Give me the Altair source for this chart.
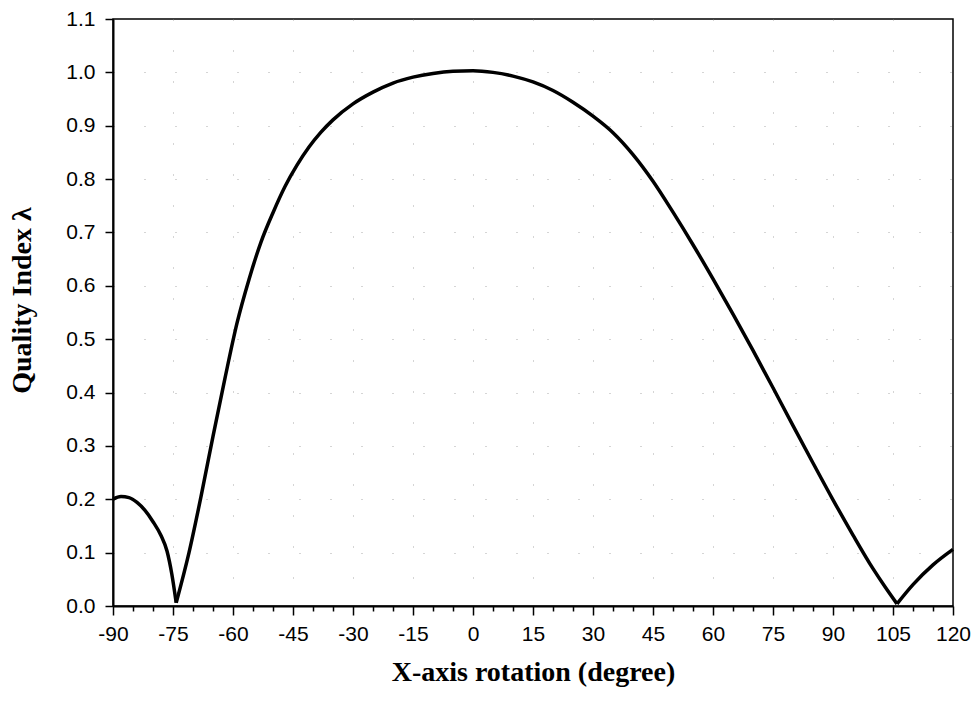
import altair as alt
import pandas as pd

# Quality index versus rotation about the X axis, split into the three
# branches between the two zero crossings so each branch stays smooth.
branch_a_angle = [-90, -88, -86, -84, -82, -80, -78, -76.5, -75.3, -74.2]
branch_a_value = [0.200, 0.205, 0.203, 0.194, 0.179, 0.158, 0.132, 0.103, 0.060, 0.006]

branch_b_angle = [-74.2, -71, -68, -65, -62, -59, -56, -53, -50, -47, -44, -41, -38,
                  -35, -30, -25, -20, -15, -10, -5, 0, 5, 10, 15, 20, 25, 30, 35,
                  40, 45, 50, 55, 60, 65, 70, 75, 80, 85, 90, 95, 100, 103, 106.0]
branch_b_value = [0.006, 0.100, 0.205, 0.318, 0.427, 0.530, 0.612, 0.682, 0.737, 0.786,
                  0.826, 0.860, 0.888, 0.911, 0.941, 0.963, 0.980, 0.991, 0.998, 1.002,
                  1.003, 1.000, 0.993, 0.982, 0.966, 0.944, 0.918, 0.887, 0.846, 0.796,
                  0.738, 0.677, 0.613, 0.547, 0.479, 0.409, 0.338, 0.268, 0.199, 0.133,
                  0.070, 0.036, 0.004]

branch_c_angle = [106.0, 110, 115, 120]
branch_c_value = [0.004, 0.040, 0.077, 0.106]

x_ticks = list(range(-90, 121, 5))
y_ticks = [round(i * 0.1, 1) for i in range(0, 12)]

rows = []
for name, angles, values in [("a", branch_a_angle, branch_a_value),
                             ("b", branch_b_angle, branch_b_value),
                             ("c", branch_c_angle, branch_c_value)]:
    for a, v in zip(angles, values):
        rows.append({"angle": a, "quality": v, "branch": name})
df = pd.DataFrame(rows)

x_axis = alt.Axis(
    values=x_ticks,
    labelExpr="datum.value % 15 === 0 ? '' + datum.value : ''",
    labelOverlap=False,
    labelFlush=False,
    labelFont="Liberation Sans",
    labelFontSize=21,
    labelColor="black",
    labelPadding=8,
    tickColor="black",
    tickWidth=1.5,
    tickSize={"condition": {"test": "datum.value % 15 === 0", "value": 9}, "value": 5},
    domainColor="black",
    domainWidth=2,
    grid=True,
    gridColor="#888",
    gridWidth=1,
    gridDash=[1, 30],
    gridOpacity={"condition": {"test": "datum.value % 15 === 0 && datum.value > -90 && datum.value < 120",
                               "value": 0.7}, "value": 0},
    title="X-axis rotation (degree)",
    titleFont="Liberation Serif",
    titleFontSize=28,
    titleFontWeight="bold",
    titleColor="black",
    titleBaseline="middle",
    titleY=66,
)

y_axis = alt.Axis(
    values=y_ticks,
    format=".1f",
    labelFont="Liberation Sans",
    labelFontSize=21,
    labelColor="black",
    labelPadding=10,
    tickColor="black",
    tickWidth=1.5,
    tickSize=8,
    domainColor="black",
    domainWidth=2,
    grid=True,
    gridColor="#888",
    gridWidth=1,
    gridDash=[1, 30],
    gridOpacity={"condition": {"test": "datum.value > 0 && datum.value < 1.05",
                               "value": 0.7}, "value": 0},
    title="Quality Index λ",
    titleFont="Liberation Serif",
    titleFontSize=28,
    titleFontWeight="bold",
    titleColor="black",
    titleBaseline="middle",
    titleX=-91,
    titleY=281,
)

chart = alt.Chart(df).mark_line(
    color="black", strokeWidth=3.5, interpolate="monotone", strokeJoin="round"
).encode(
    x=alt.X("angle:Q", scale=alt.Scale(domain=[-90, 120], nice=False, zero=False), axis=x_axis),
    y=alt.Y("quality:Q", scale=alt.Scale(domain=[0, 1.1], nice=False), axis=y_axis),
    detail="branch:N",
).properties(
    width=840,
    height=587,
    autosize=alt.AutoSizeParams(type="none"),
    padding={"left": 113, "top": 19, "right": 26, "bottom": 102},
    background="white",
).configure_view(
    stroke="black", strokeWidth=1.5
)

chart.save("out.html", embed_options={"renderer": "svg", "actions": False})
